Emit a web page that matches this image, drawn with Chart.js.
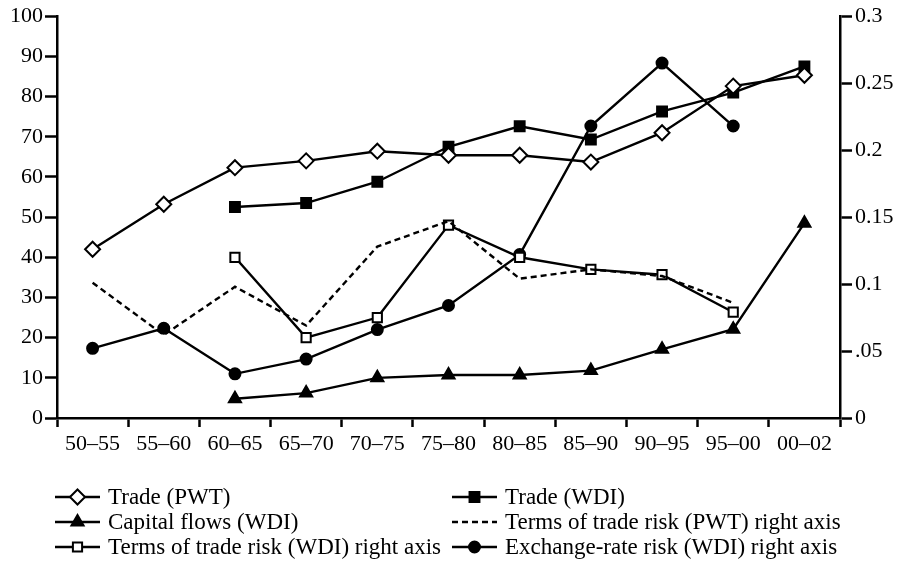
<!DOCTYPE html>
<html>
<head>
<meta charset="utf-8">
<script src="https://cdn.jsdelivr.net/npm/chart.js@4.4.1/dist/chart.umd.min.js"></script>
<style>
  html, body { margin: 0; padding: 0; background: #fff; }
  #rendcont { display: block; }
</style>
</head>
<body>
<canvas id="rendcont" width="902" height="562"></canvas>
<script>
// periods on the x axis
const periods = ['50–55','55–60','60–65','65–70','70–75','75–80','80–85','85–90','90–95','95–00','00–02'];

// left axis series
const tradePWT     = [42, 53.2, 62.3, 64, 66.4, 65.4, 65.4, 63.7, 71, 82.6, 85.3];
const tradeWDI     = [null, null, 52.5, 53.5, 58.8, 67.5, 72.6, 69.3, 76.3, 81, 87.5];
const capitalFlows = [null, null, 4.8, 6.2, 10, 10.7, 10.7, 11.8, 17.1, 22.1, 48.5];

// right axis series
const totRiskPWT = [0.101, 0.062, 0.098, 0.069, 0.128, 0.147, 0.104, 0.111, 0.106, 0.086, null];
const totRiskWDI = [null, null, 0.120, 0.060, 0.075, 0.144, 0.120, 0.111, 0.107, 0.079, null];
const fxRiskWDI  = [0.052, 0.067, 0.033, 0.044, 0.066, 0.084, 0.122, 0.218, 0.265, 0.218, null];

const rightTickLabels = ['0', '.05', '0.1', '0.15', '0.2', '0.25', '0.3'];

const serif = "'Liberation Serif', 'Times New Roman', serif";
Chart.defaults.font.family = serif;
Chart.defaults.color = "black";

let ctx = document.getElementById("rendcont");
let cont = ctx.getContext("2d");

function series(label, data, axis, style, extra) {
  return Object.assign({
    label: label,
    data: data,
    yAxisID: axis,
    borderColor: "black",
    borderWidth: 2.4,
    pointStyle: style,
    pointRadius: 6,
    pointBorderWidth: 2,
    pointBorderColor: "black",
    pointBackgroundColor: "black",
    fill: false,
    tension: 0
  }, extra || {});
}

// two column legend under the chart
const gridLegend = {
  id: 'gridLegend',
  afterDraw(chart) {
    let c = chart.ctx;
    let cols = [55, 452];
    let rows = [497, 522, 547];
    chart.data.datasets.forEach((ds, i) => {
      let x = cols[i % 2];
      let y = rows[Math.floor(i / 2)];
      c.save();
      c.strokeStyle = "black";
      c.lineWidth = ds.borderWidth;
      c.setLineDash(ds.borderDash || []);
      c.beginPath();
      c.moveTo(x, y);
      c.lineTo(x + 45, y);
      c.stroke();
      c.setLineDash([]);
      if (ds.pointRadius > 0) {
        c.fillStyle = ds.pointBackgroundColor;
        c.strokeStyle = ds.pointBorderColor;
        c.lineWidth = ds.pointBorderWidth;
        Chart.helpers.drawPoint(c, {
          pointStyle: ds.pointStyle,
          radius: ds.pointRadius,
          borderWidth: ds.pointBorderWidth,
          rotation: 0
        }, x + 22.5, y);
      }
      c.fillStyle = "black";
      c.font = "23px " + serif;
      c.textBaseline = "middle";
      c.textAlign = "left";
      c.fillText(ds.label, x + 53, y + 1);
      c.restore();
    });
  }
};

let cht = new Chart(cont, {
  type: 'line',
  data: {
    labels: periods,
    datasets: [
      series('Trade (PWT)', tradePWT, 'y', 'rectRot', { pointRadius: 7.5, pointBackgroundColor: "white" }),
      series('Trade (WDI)', tradeWDI, 'y', 'rect', { pointRadius: 7 }),
      series('Capital flows (WDI)', capitalFlows, 'y', 'triangle', { pointRadius: 7 }),
      series('Terms of trade risk (PWT) right axis', totRiskPWT, 'y1', false, { pointRadius: 0, borderDash: [6, 4], borderWidth: 2.4 }),
      series('Terms of trade risk (WDI) right axis', totRiskWDI, 'y1', 'rect', { pointRadius: 6.5, pointBackgroundColor: "white" }),
      series('Exchange-rate risk (WDI) right axis', fxRiskWDI, 'y1', 'circle', { pointRadius: 5.5 })
    ]
  },
  options: {
    responsive: false,
    animation: false,
    devicePixelRatio: 1,
    layout: { padding: { top: 15, left: 0, right: 0, bottom: 0 } },
    plugins: {
      legend: { display: false },
      tooltip: { enabled: false }
    },
    scales: {
      x: {
        offset: true,
        afterFit: (s) => { s.height = 144; },
        grid: { offset: true, drawOnChartArea: false, tickLength: 9, tickWidth: 2.5, tickColor: "black" },
        border: { display: true, color: "black", width: 2.5 },
        ticks: { font: { size: 22 }, color: "black", padding: 4, maxRotation: 0, autoSkip: false }
      },
      y: {
        position: 'left',
        min: 0, max: 100,
        afterFit: (s) => { s.width = 57; },
        grid: { drawOnChartArea: false, tickLength: 12, tickWidth: 2.5, tickColor: "black" },
        border: { display: true, color: "black", width: 2.5 },
        ticks: { stepSize: 10, font: { size: 22 }, color: "black", padding: 2 }
      },
      y1: {
        position: 'right',
        min: 0, max: 0.3,
        afterFit: (s) => { s.width = 62; },
        grid: { drawOnChartArea: false, tickLength: 12, tickWidth: 2.5, tickColor: "black" },
        border: { display: true, color: "black", width: 2.5 },
        ticks: {
          stepSize: 0.05, font: { size: 22 }, color: "black", padding: 3,
          callback: (v, i) => rightTickLabels[i]
        }
      }
    }
  },
  plugins: [gridLegend]
});
</script>
</body>
</html>
